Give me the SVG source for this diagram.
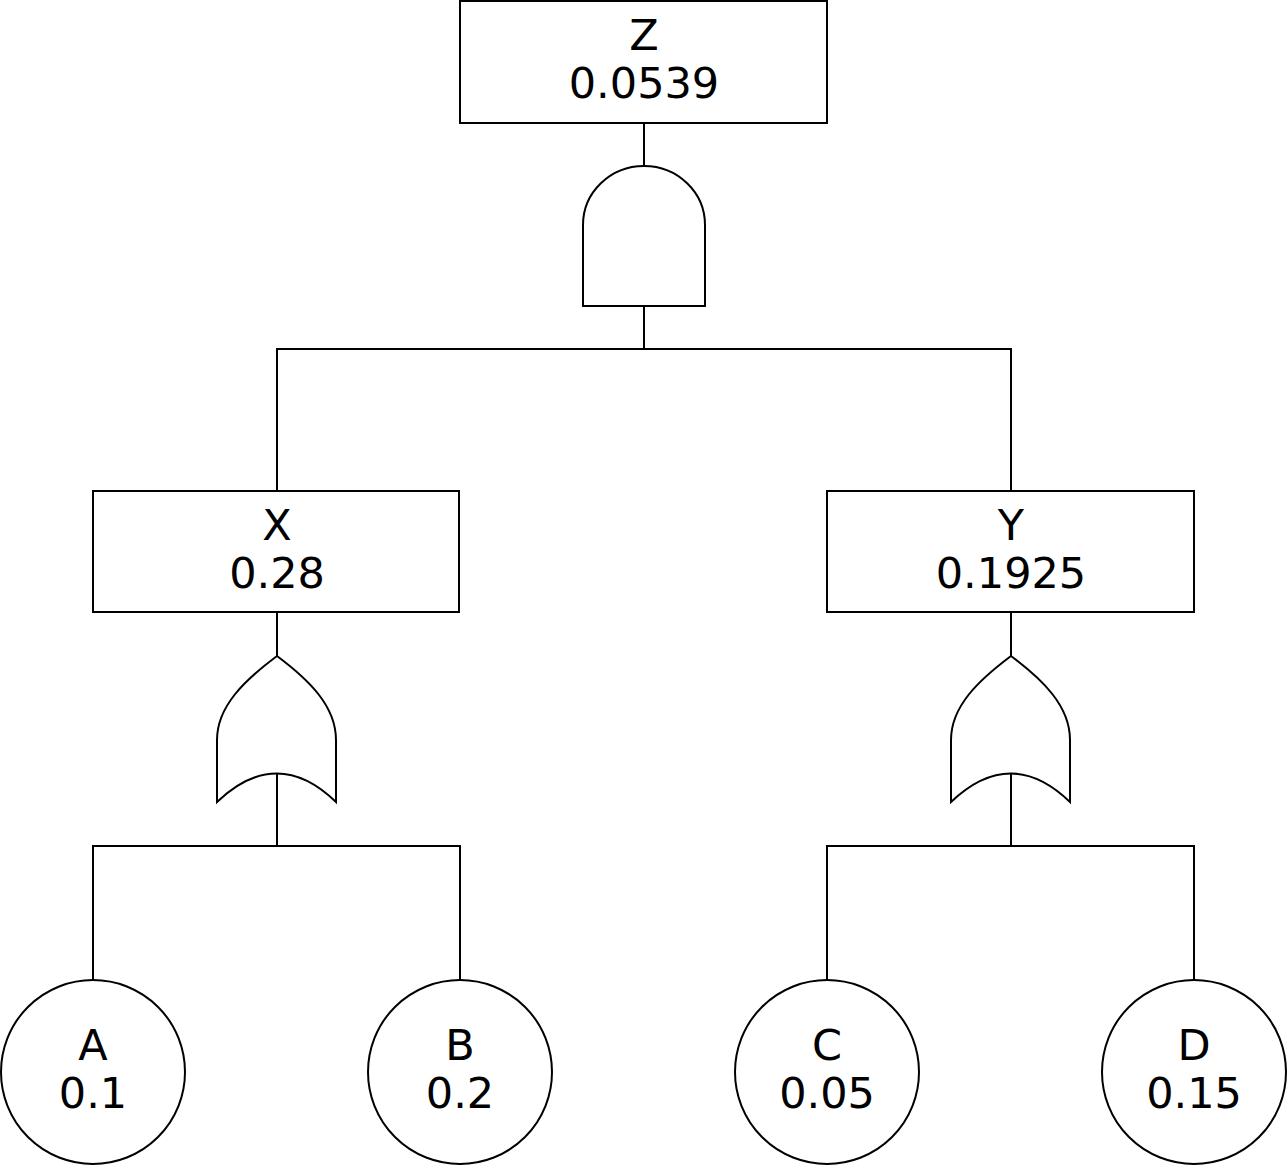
<svg xmlns="http://www.w3.org/2000/svg" width="1288" height="1165" viewBox="0 0 1288 1165">
  <style>
    .shape { fill: #ffffff; stroke: #000000; stroke-width: 2; }
    .wire { fill: none; stroke: #000000; stroke-width: 2; stroke-linejoin: miter; }
    .label { font-family: "DejaVu Sans", "Liberation Sans", sans-serif; font-size: 43px; fill: #000000; text-anchor: middle; }
  </style>
  <defs>
    <!-- AND gate centred on x=0, top at y=0 -->
    <path id="and-gate" d="M-61,59 A61,59 0 0 1 61,59 L61,140 L-61,140 Z"/>
    <!-- OR gate centred on x=0, apex at y=0 -->
    <path id="or-gate" d="M0,0 C-32,24 -60,50 -60,84 L-60,146 Q0,89 59,146 L59,84 C59,50 32,24 0,0 Z"/>
  </defs>

  <!-- connectors -->
  <g id="connectors">
    <path class="wire" d="M644,123 V166 M644,306 V349"/>
    <path class="wire" d="M277,491 V349 H1011 V491"/>
    <path class="wire" d="M277,612 V656 M277,773 V846"/>
    <path class="wire" d="M93,980 V846 H460 V980"/>
    <path class="wire" d="M1011,612 V656 M1011,773 V846"/>
    <path class="wire" d="M827,980 V846 H1194 V980"/>
  </g>

  <g id="node-z">
    <rect class="shape" x="460" y="1" width="367" height="122"/>
    <text class="label" x="644" y="50">Z</text>
    <text class="label" x="644" y="98">0.0539</text>
  </g>

  <g id="gate-and-z">
    <use href="#and-gate" class="shape" x="644" y="166"/>
  </g>

  <g id="node-x">
    <rect class="shape" x="93" y="491" width="366" height="121"/>
    <text class="label" x="277" y="540">X</text>
    <text class="label" x="277" y="588">0.28</text>
  </g>

  <g id="node-y">
    <rect class="shape" x="827" y="491" width="367" height="121"/>
    <text class="label" x="1011" y="540">Y</text>
    <text class="label" x="1011" y="588">0.1925</text>
  </g>

  <g id="gate-or-x">
    <use href="#or-gate" class="shape" x="277" y="656"/>
  </g>

  <g id="gate-or-y">
    <use href="#or-gate" class="shape" x="1011" y="656"/>
  </g>

  <g id="event-a">
    <circle class="shape" cx="93" cy="1072" r="92"/>
    <text class="label" x="93" y="1060">A</text>
    <text class="label" x="93" y="1108">0.1</text>
  </g>

  <g id="event-b">
    <circle class="shape" cx="460" cy="1072" r="92"/>
    <text class="label" x="460" y="1060">B</text>
    <text class="label" x="460" y="1108">0.2</text>
  </g>

  <g id="event-c">
    <circle class="shape" cx="827" cy="1072" r="92"/>
    <text class="label" x="827" y="1060">C</text>
    <text class="label" x="827" y="1108">0.05</text>
  </g>

  <g id="event-d">
    <circle class="shape" cx="1194" cy="1072" r="92"/>
    <text class="label" x="1194" y="1060">D</text>
    <text class="label" x="1194" y="1108">0.15</text>
  </g>
</svg>
